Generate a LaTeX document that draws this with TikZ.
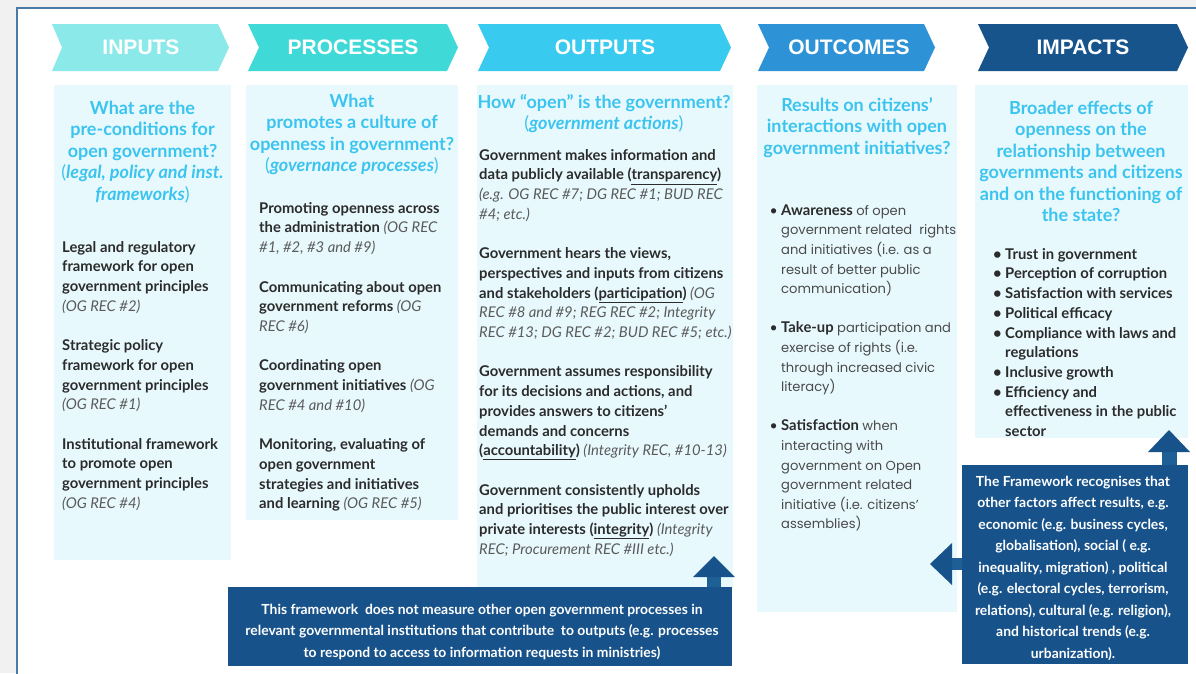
\documentclass[tikz,border=0pt]{standalone}
\usepackage{fontspec}
\setmainfont{Lato}
\newfontfamily\hdfont{Liberation Sans}
\newfontfamily\popfont{Poppins}
\definecolor{bggray}{HTML}{F1F1F1}
\definecolor{framec}{HTML}{4A7BA7}
\definecolor{cIn}{HTML}{8CE9E9}
\definecolor{cPr}{HTML}{3FDAD8}
\definecolor{cOu}{HTML}{38CAEF}
\definecolor{cOc}{HTML}{2E93D6}
\definecolor{cIm}{HTML}{17548B}
\definecolor{boxc}{HTML}{E8F9FD}
\definecolor{qblue}{HTML}{3BC4EF}
\definecolor{bodyc}{HTML}{2B2B2B}
\definecolor{refgray}{HTML}{5A5A5A}
\definecolor{regc}{HTML}{4A4A4A}
\definecolor{notec}{HTML}{17528A}
\definecolor{shaftc}{HTML}{1E5F96}
\newcommand\rf[1]{{\mdseries\itshape\color{refgray}#1}}
\newcommand\pn[1]{{\mdseries #1}}
\newcommand\bw[1]{{\normalfont\bfseries\fontsize{14.8}{19.6}\selectfont\color{bodyc}#1}}
\newcommand\bul{\llap{{\normalfont\fontsize{14}{19.6}\selectfont\color{bodyc}•\ }}}
\begin{document}
\begin{tikzpicture}[x=1pt,y=-1pt,
  hdr/.style={font=\hdfont\bfseries\fontsize{21}{24}\selectfont, text=white, inner sep=0pt},
  ttl/.style={font=\bfseries\fontsize{18}{21.5}\selectfont, text=qblue, align=center, inner sep=0pt, anchor=north},
  bdy/.style={font=\bfseries\fontsize{14.8}{19.7}\selectfont, text=bodyc, align=left, inner sep=0pt, anchor=north west},
  bdyreg/.style={font=\popfont\fontsize{13.1}{19.6}\selectfont, text=regc, align=left, inner sep=0pt, anchor=north west},
  notet/.style={font=\bfseries\fontsize{13.9}{21.5}\selectfont, text=white, align=center, inner sep=0pt, anchor=north},
  colbox/.style={fill=boxc},
  blockarrow/.style={fill=notec}
]
\useasboundingbox (0,0) rectangle (1196,673);
\clip (0,0) rectangle (1196,673);
\fill[bggray] (0,0) rectangle (1196,673);
\draw[line width=2.5pt, draw=framec, fill=white] (17,8) rectangle (1240,700);

% header chevrons
\fill[cIn] (52,24) -- (218,24) -- (229,47.5) -- (218,71) -- (52,71) -- (62,47.5) -- cycle;
\fill[cPr] (248,24) -- (447,24) -- (458,47.5) -- (447,71) -- (248,71) -- (259,47.5) -- cycle;
\fill[cOu] (478,24) -- (720,24) -- (731,47.5) -- (720,71) -- (478,71) -- (489,47.5) -- cycle;
\fill[cOc] (758,24) -- (924,24) -- (935,47.5) -- (924,71) -- (758,71) -- (769,47.5) -- cycle;
\fill[cIm] (978,24) -- (1177,24) -- (1188,47.5) -- (1177,71) -- (978,71) -- (989,47.5) -- cycle;
\node[hdr] (hIn) at (141,47.5) {INPUTS};
\node[hdr] (hPr) at (353,47.5) {PROCESSES};
\node[hdr] (hOu) at (605,47.5) {OUTPUTS};
\node[hdr] (hOc) at (849,47.5) {OUTCOMES};
\node[hdr] (hIm) at (1083,47.5) {IMPACTS};

% column boxes
\fill[colbox] (54,85) rectangle (231,560);
\fill[colbox] (246,85) rectangle (458,520);
\fill[colbox] (477,85) rectangle (733,590);
\fill[colbox] (757,85) rectangle (957,612);
\fill[colbox] (975,85) rectangle (1188,438);

% column 1
\node[ttl] (t1) at (142.5,{114-15.05}) {\strut What are the\\pre-conditions for\\open government?\\\pn{(}\textit{legal, policy and inst.}\\\textit{frameworks}\pn{)}};
\node[bdy] (b1) at (62,{252-13.79}) {\strut Legal and regulatory\\framework for open\\government principles\\\rf{(OG REC \#2)}\\[19.7pt]
Strategic policy\\framework for open\\government principles\\\rf{(OG REC \#1)}\\[19.7pt]
Institutional framework\\to promote open\\government principles\\\rf{(OG REC \#4)}};

% column 2
\node[ttl] (t2) at (352,{107-15.05}) {\strut What\\promotes a culture of\\openness in government?\\\pn{(}\textit{governance processes}\pn{)}};
\node[bdy] (b2) at (259,{213-13.79}) {\strut Promoting openness across\\the administration \rf{(OG REC}\\\rf{\#1, \#2, \#3 and \#9)}\\[19.7pt]
Communicating about open\\government reforms \rf{(OG}\\\rf{REC \#6)}\\[19.7pt]
Coordinating open\\government initiatives \rf{(OG}\\\rf{REC \#4 and \#10)}\\[19.7pt]
Monitoring, evaluating of\\open government\\strategies and initiatives\\and learning \rf{(OG REC \#5)}};

% column 3
\node[ttl] (t3) at (604,{108-15.05}) {\strut How “open” is the government?\\\pn{(}\textit{government actions}\pn{)}};
\node[bdy] (b3) at (479,{160-13.79}) {\strut Government makes information and\\data publicly available (\underline{transparency})\\\rf{(e.g. OG REC \#7; DG REC \#1; BUD REC}\\\rf{\#4; etc.)}\\[19.7pt]
Government hears the views,\\perspectives and inputs from citizens\\and stakeholders (\underline{participation}) \rf{(OG}\\\rf{REC \#8 and \#9; REG REC \#2; Integrity}\\\rf{REC \#13; DG REC \#2; BUD REC \#5; etc.)}\\[19.7pt]
Government assumes responsibility\\for its decisions and actions, and\\provides answers to citizens’\\demands and concerns\\(\underline{accountability}) \rf{(Integrity REC, \#10-13)}\\[19.7pt]
Government consistently upholds\\and prioritises the public interest over\\private interests (\underline{integrity}) \rf{(Integrity}\\\rf{REC; Procurement REC \#III etc.)}};

% column 4
\node[ttl] (t4) at (857,{111-15.05}) {\strut Results on citizens’\\interactions with open\\government initiatives?};
\node[bdyreg] (b4) at (781,{215-13.72}) {\strut\bul\bw{Awareness} of open\\government related\ \ rights\\and initiatives (i.e. as a\\result of better public\\communication)\\[19.6pt]
\bul\bw{Take-up} participation and\\exercise of rights (i.e.\\through increased civic\\literacy)\\[19.6pt]
\bul\bw{Satisfaction} when\\interacting with\\government on Open\\government related\\initiative (i.e. citizens’\\assemblies)};

% column 5
\node[ttl] (t5) at (1081,{114-15.05}) {\strut Broader effects of\\openness on the\\relationship between\\governments and citizens\\and on the functioning of\\the state?};
\node[bdy] (b5) at (1005,{259-13.79}) {\strut\llap{•\ }Trust in government\\\llap{•\ }Perception of corruption\\\llap{•\ }Satisfaction with services\\\llap{•\ }Political efficacy\\\llap{•\ }Compliance with laws and\\regulations\\\llap{•\ }Inclusive growth\\\llap{•\ }Efficiency and\\effectiveness in the public\\sector};

% bottom note and arrow
\fill[notec] (228,587) rectangle (732,666);
\node[notet] (n1) at (482,{614-15.05}) {\strut This framework\ \ does not measure other open government processes in\\relevant governmental institutions that contribute\ \ to outputs (e.g. processes\\to respond to access to information requests in ministries)};
\coordinate (a1tip) at (714,556);
\fill[shaftc] (707,587) rectangle (721,577);
\fill[blockarrow] (693,577) -- (a1tip) -- (735,577) -- cycle;

% right note and arrows
\fill[notec] (962,465) rectangle (1188,664);
\node[notet] (n2) at (1073,{486-15.05}) {\strut The Framework recognises that\\other factors affect results, e.g.\\economic (e.g. business cycles,\\globalisation), social ( e.g.\\inequality, migration) , political\\(e.g. electoral cycles, terrorism,\\relations), cultural (e.g. religion),\\and historical trends (e.g.\\urbanization).};
\coordinate (a2tip) at (1169,430);
\fill[shaftc] (1162,465) rectangle (1177,452);
\fill[blockarrow] (1148,452) -- (a2tip) -- (1190,452) -- cycle;
\coordinate (a3tip) at (930,564);
\fill[shaftc] (962,558) rectangle (952,570);
\fill[blockarrow] (952,543) -- (a3tip) -- (952,585) -- cycle;
\end{tikzpicture}
\end{document}
